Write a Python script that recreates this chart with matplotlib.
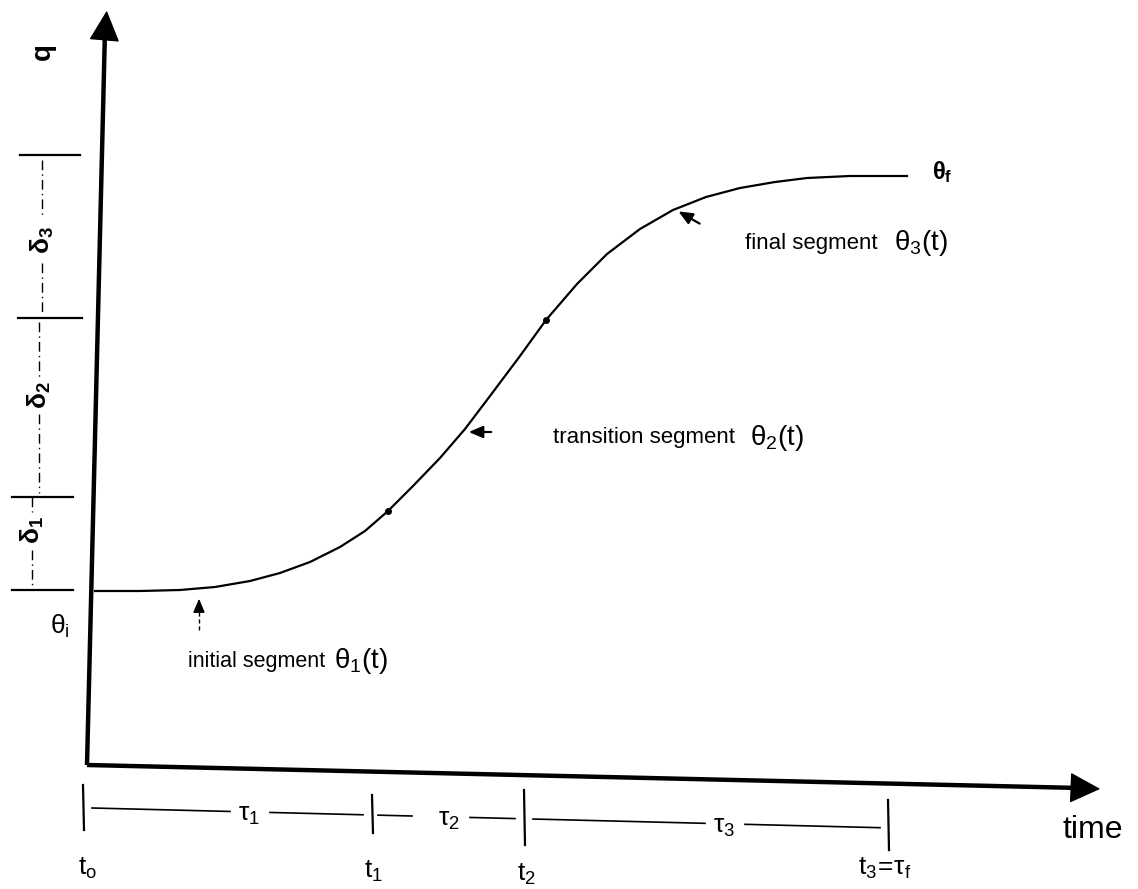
import matplotlib
matplotlib.use('Agg')
import matplotlib.pyplot as plt

plt.rcParams['font.family'] = ['Liberation Sans', 'DejaVu Sans']
plt.rcParams['mathtext.default'] = 'regular'

W, H = 1138, 889

# ---- trajectory (pixel units) ----
curve_x = [95, 140, 180, 215, 250, 280, 310, 340, 365, 388, 413, 440, 465,
           490, 520, 546, 577, 607, 640, 673, 706, 740, 775, 807, 850, 907]
curve_y = [591, 591, 590, 587, 581, 573, 562, 547, 531, 511, 486, 458, 429,
           396, 356, 320, 284, 254, 229, 210, 197, 188, 182, 178, 176, 176]
knot_x = [388, 546]
knot_y = [511, 320]

# ---- time marks ----
time_tick_x = [83, 372, 524, 888]
time_tick_top = [785, 795, 790, 800]
time_tick_bot = [830, 833, 845, 850]
time_labels = [r'$t_o$', r'$t_1$', r'$t_2$', r'$t_3\!=\!\tau_f$']
time_label_x = [88, 373, 526, 885]
time_label_y = [868, 871, 874, 868]

interval_labels = [r'$\tau_1$', r'$\tau_2$', r'$\tau_3$']
interval_label_x = [249, 449, 724]
interval_segments = [[(92, 230), (270, 363)],
                     [(378, 412), (470, 515)],
                     [(533, 705), (745, 880)]]

# ---- level marks ----
level_tick_y = [590, 497, 318, 155]
level_tick_x0 = [12, 12, 18, 20]
level_tick_x1 = [73, 73, 82, 80]
delta_labels = [r'$\delta_1$', r'$\delta_2$', r'$\delta_3$']
delta_x = [32, 39, 42]
delta_y = [530, 395, 240]
delta_segments = [[(497, 512), (550, 588)],
                  [(322, 378), (414, 493)],
                  [(160, 217), (263, 313)]]

fig = plt.figure(figsize=(W / 100, H / 100), dpi=100)
ax = fig.add_axes([0, 0, 1, 1])
ax.set_xlim(0, W)
ax.set_ylim(H, 0)
ax.axis('off')

# axes with arrows
ax.plot([87, 105], [765, 30], color='black', lw=3.2, solid_capstyle='butt')
ax.annotate('', xy=(107, 8), xytext=(105, 32),
            arrowprops=dict(arrowstyle='-|>,head_length=0.9,head_width=0.45',
                            color='black', lw=1, mutation_scale=22))
ax.plot([87, 1080], [765, 788], color='black', lw=3.2, solid_capstyle='butt')
ax.annotate('', xy=(1103, 789), xytext=(1078, 788),
            arrowprops=dict(arrowstyle='-|>,head_length=0.9,head_width=0.45',
                            color='black', lw=1, mutation_scale=22))

# curve
ax.plot(curve_x, curve_y, color='black', lw=1.6)
ax.plot(knot_x, knot_y, 'o', color='black', ms=4)

# theta labels
ax.text(942, 172, r'$\theta_f$', fontsize=17, ha='center', va='center', fontweight='bold')
ax.text(60, 626, r'$\theta_i$', fontsize=19, ha='center', va='center')
ax.text(43, 52, 'q', fontsize=20, ha='center', va='center', rotation=90, fontweight='bold')

# level ticks and delta marks
for y, x0, x1 in zip(level_tick_y, level_tick_x0, level_tick_x1):
    ax.plot([x0, x1], [y, y], color='black', lw=1.6)
for lab, x, y, segs in zip(delta_labels, delta_x, delta_y, delta_segments):
    ax.text(x, y, lab, fontsize=19, ha='center', va='center', rotation=90, fontweight='bold')
    for (y0, y1) in segs:
        ax.plot([x, x], [y0, y1], color='black', lw=1.0, ls=(0, (7, 3, 1, 3)))

# time ticks and interval marks
for x, y0, y1 in zip(time_tick_x, time_tick_top, time_tick_bot):
    ax.plot([x, x + 1], [y0, y1], color='black', lw=1.6)
for lab, x, y in zip(time_labels, time_label_x, time_label_y):
    ax.text(x, y, lab, fontsize=19, ha='center', va='center')


def row_y(x):
    return 808 + 0.025 * (x - 92)


for lab, x, segs in zip(interval_labels, interval_label_x, interval_segments):
    ax.text(x, row_y(x) + 3, lab, fontsize=19, ha='center', va='center')
    for (x0, x1) in segs:
        ax.plot([x0, x1], [row_y(x0), row_y(x1)], color='black', lw=1.2)

ax.text(1093, 830, 'time', fontsize=23, ha='center', va='center')

# segment annotations
ax.plot([199, 199], [630, 606], color='black', lw=1.0, ls=(0, (3, 2)))
ax.annotate('', xy=(199, 596), xytext=(199, 607),
            arrowprops=dict(arrowstyle='-|>,head_length=0.7,head_width=0.3',
                            color='black', lw=1, mutation_scale=12))
ax.text(188, 661, 'initial segment', fontsize=15.5, ha='left', va='center')
ax.text(334, 661, r'$\theta_1(t)$', fontsize=20, ha='left', va='center')

ax.annotate('', xy=(466, 432), xytext=(494, 432),
            arrowprops=dict(arrowstyle='-|>,head_length=0.7,head_width=0.3',
                            color='black', lw=1.6, mutation_scale=12))
ax.text(553, 438, 'transition segment', fontsize=16, ha='left', va='center')
ax.text(750, 438, r'$\theta_2(t)$', fontsize=20, ha='left', va='center')

ax.annotate('', xy=(676, 210), xytext=(702, 225),
            arrowprops=dict(arrowstyle='-|>,head_length=0.7,head_width=0.3',
                            color='black', lw=1.6, mutation_scale=12))
ax.text(745, 243, 'final segment', fontsize=16, ha='left', va='center')
ax.text(894, 243, r'$\theta_3(t)$', fontsize=20, ha='left', va='center')

fig.savefig('out.png', dpi=100)
